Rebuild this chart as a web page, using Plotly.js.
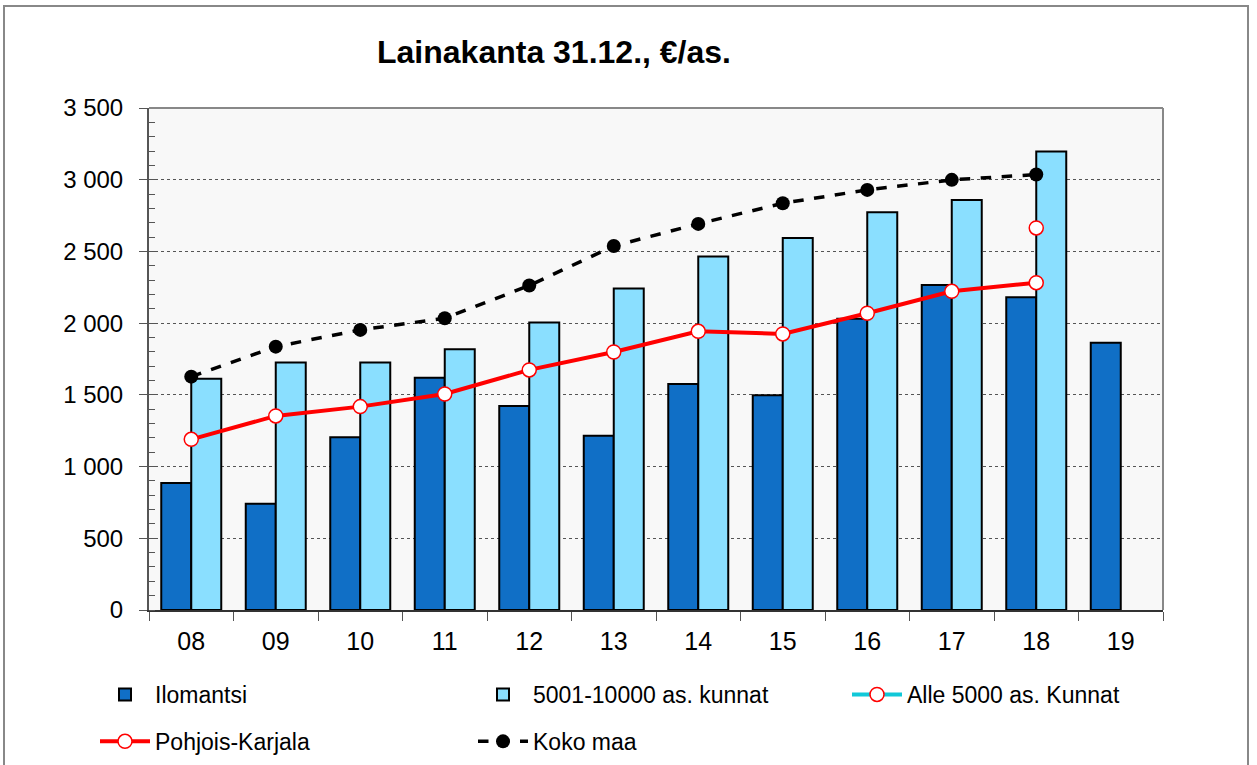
<!DOCTYPE html>
<html><head><meta charset="utf-8">
<script src="https://cdn.plot.ly/plotly-3.0.1.min.js"></script>
<style>
html,body{margin:0;padding:0;background:#fff;overflow:hidden;}
#frame{position:absolute;left:3px;top:5px;width:1246px;height:800px;border:2px solid #888;box-sizing:border-box;}
#chart{position:absolute;left:0;top:0;width:1257px;height:765px;}
</style></head>
<body>
<div id="frame"></div>
<div id="chart"></div>
<script>
const years = ["08","09","10","11","12","13","14","15","16","17","18","19"];
const ilomantsi = [885, 740, 1205, 1620, 1423, 1215, 1576, 1497, 2031, 2266, 2181, 1864];
const kunnat5001 = [1613, 1725, 1725, 1818, 2004, 2241, 2464, 2594, 2773, 2859, 3196, null];
const alle5000 = [null, null, null, null, null, null, null, null, null, null, 2664, null];
const pohjoisKarjala = [1190, 1353, 1418, 1506, 1674, 1799, 1943, 1925, 2069, 2222, 2282, null];
const kokoMaa = [1627, 1836, 1953, 2034, 2262, 2538, 2692, 2836, 2929, 2999, 3036, null];

const traces = [
  {type:'bar', name:'Ilomantsi', x:years, y:ilomantsi, legend:'legend', legendgroup:'a',
   marker:{color:'#106fc6', line:{color:'#000', width:2}}},
  {type:'bar', name:'5001-10000 as. kunnat', x:years, y:kunnat5001, legend:'legend2', legendgroup:'b',
   marker:{color:'#8adfff', line:{color:'#000', width:2}}},
  {type:'scatter', mode:'lines+markers', name:'Alle 5000 as. Kunnat', x:years, y:alle5000,
   legend:'legend3', legendgroup:'c',
   line:{color:'#11c8d8', width:4},
   marker:{symbol:'circle', size:14, color:'#fff', line:{color:'#ff0000', width:1.5}}},
  {type:'scatter', mode:'lines+markers', name:'Pohjois-Karjala', x:years, y:pohjoisKarjala,
   legend:'legend', legendgroup:'d',
   line:{color:'#ff0000', width:4},
   marker:{symbol:'circle', size:14, color:'#fff', line:{color:'#ff0000', width:1.5}}},
  {type:'scatter', mode:'lines+markers', name:'Koko maa', x:years, y:kokoMaa,
   legend:'legend2', legendgroup:'e',
   line:{color:'#000', width:3.5, dash:'dash'},
   marker:{symbol:'circle', size:14, color:'#000'}}
];

function leg(xpx){
  return {orientation:'v', x:xpx/1257, xref:'container', xanchor:'left',
          y:1-673/765, yref:'container', yanchor:'top',
          font:{size:23}, itemwidth:50, tracegroupgap:14, bgcolor:'rgba(0,0,0,0)'};
}

const layout = {
  width:1257, height:765,
  margin:{l:149, r:94, t:108, b:155, autoexpand:false},
  paper_bgcolor:'rgba(0,0,0,0)',
  plot_bgcolor:'#f8f8f8',
  font:{family:'"Liberation Sans", Arial, sans-serif', color:'#000', size:20},
  title:{text:'<b>Lainakanta 31.12., €/as.</b>', x:554/1257, xanchor:'center', xref:'container',
         y:1-52/765, yanchor:'middle', yref:'container', font:{size:32}},
  barmode:'group', bargap:0.29, bargroupgap:0,
  showlegend:true,
  legend:leg(95), legend2:leg(473), legend3:leg(847),
  xaxis:{type:'category', range:[-0.5, 11.5], autorange:false,
         tickson:'boundaries', ticks:'outside', ticklen:9, tickcolor:'#555',
         showline:true, linecolor:'#333', linewidth:2, mirror:false, tickfont:{size:25},
         ticklabelstandoff:8, showgrid:false, zeroline:false},
  yaxis:{range:[0,3500], autorange:false, dtick:500, ticks:'outside', ticklen:8, tickcolor:'#555',
         showline:true, linecolor:'#555', linewidth:2,
         showgrid:true, gridcolor:'#555', griddash:'dot', gridwidth:1,
         minor:{dtick:100, ticks:'inside', ticklen:6, tickcolor:'#555', showgrid:false},
         tickformat:',d', tickfont:{size:24}, ticklabelstandoff:11, zeroline:false},
  separators:', ',
  shapes:[
    {type:'line', xref:'paper', yref:'paper', x0:0, x1:1, y0:1, y1:1, line:{color:'#888', width:2}},
    {type:'line', xref:'paper', yref:'paper', x0:1, x1:1, y0:0, y1:1, line:{color:'#888', width:2}}
  ]
};
Plotly.newPlot('chart', traces, layout, {displayModeBar:false, staticPlot:true});
</script>
</body></html>
